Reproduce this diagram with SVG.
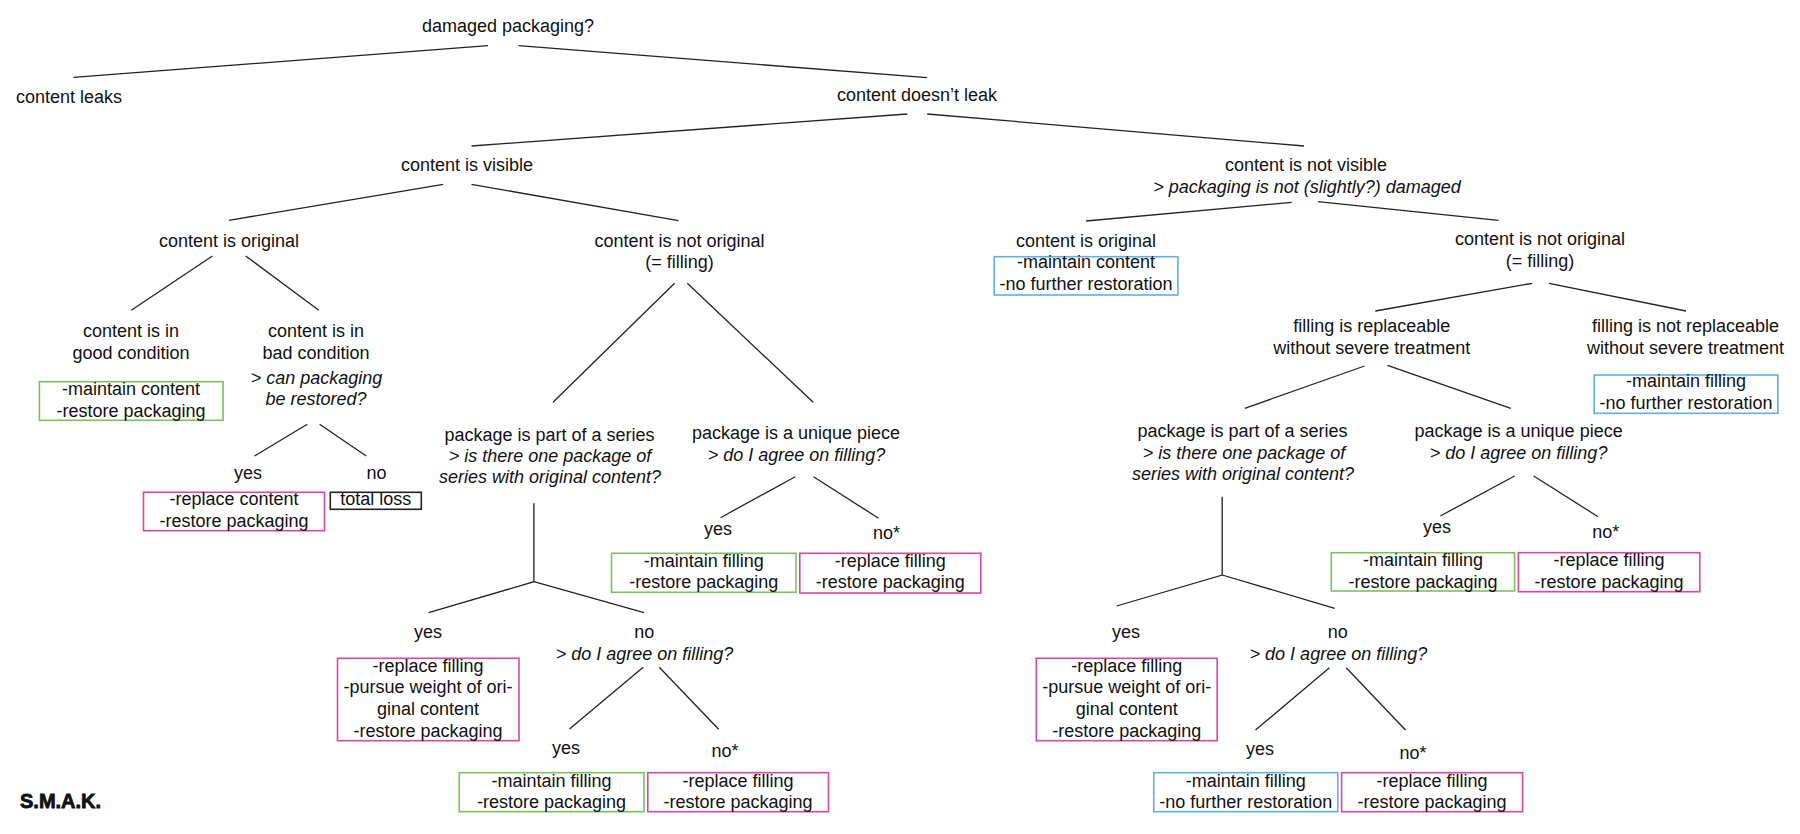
<svg xmlns="http://www.w3.org/2000/svg" width="1800" height="834" viewBox="0 0 1800 834">
<style>
text{font-family:"Liberation Sans",Arial,sans-serif;font-size:18px;fill:#111;text-anchor:middle}
.i{font-style:italic}
.b{fill:none;stroke-width:1.6}
.g{stroke:#7cc25c}
.p{stroke:#e0449e}
.u{stroke:#5fb0ea}
.k{stroke:#222}
#connectors line,#connectors polyline{stroke:#222;stroke-width:1.3;fill:none}
.logo{font-weight:bold;font-size:20px;text-anchor:start;stroke:#111;stroke-width:0.8}
</style>
<rect width="1800" height="834" fill="#fff"/>
<g id="connectors">
<line x1="488" y1="45.7" x2="73.5" y2="77.3"/>
<line x1="518.6" y1="45.7" x2="927.2" y2="77.7"/>
<line x1="907.3" y1="114" x2="471.5" y2="146"/>
<line x1="927.2" y1="114" x2="1304" y2="146"/>
<line x1="443.2" y1="184.3" x2="228.9" y2="220.3"/>
<line x1="471.5" y1="184.3" x2="678.5" y2="220.7"/>
<line x1="1291.8" y1="202.3" x2="1086" y2="221"/>
<line x1="1317.9" y1="201.7" x2="1498.5" y2="220.3"/>
<line x1="212.4" y1="256" x2="131.3" y2="310.3"/>
<line x1="245.7" y1="256" x2="318.8" y2="310.3"/>
<line x1="307.3" y1="424.3" x2="254.5" y2="456"/>
<line x1="319.6" y1="424.3" x2="366.2" y2="456"/>
<line x1="674.6" y1="283.3" x2="553" y2="402.3"/>
<line x1="687.3" y1="283.3" x2="813.2" y2="402.3"/>
<polyline points="533.9,503.3 533.9,581.7 428.6,612.7"/>
<line x1="533.9" y1="581.7" x2="644" y2="612.7"/>
<line x1="795.2" y1="476.7" x2="720.5" y2="517.7"/>
<line x1="813.5" y1="476.7" x2="878.6" y2="518.3"/>
<line x1="643.2" y1="667.3" x2="569.5" y2="729"/>
<line x1="659.3" y1="667.3" x2="718.6" y2="729.3"/>
<line x1="1532.2" y1="283.3" x2="1375.3" y2="311"/>
<line x1="1549" y1="283.3" x2="1686" y2="311"/>
<line x1="1364.6" y1="366" x2="1244.8" y2="408.3"/>
<line x1="1387.5" y1="365.3" x2="1510.8" y2="408.3"/>
<line x1="1514.6" y1="476" x2="1440.3" y2="516"/>
<line x1="1533.7" y1="476" x2="1598" y2="516.7"/>
<polyline points="1222.2,496.7 1222.2,575 1116.6,606"/>
<line x1="1222.2" y1="575" x2="1334.7" y2="608.3"/>
<line x1="1329.4" y1="667.7" x2="1255.5" y2="730"/>
<line x1="1346.2" y1="667.7" x2="1405.5" y2="730"/>
</g>
<g id="root"><text x="508" y="32.3">damaged packaging?</text></g>
<g id="leaks"><text x="69" y="103.3">content leaks</text></g>
<g id="noleak"><text x="917" y="100.7">content doesn’t leak</text></g>
<g id="visible"><text x="467" y="171">content is visible</text></g>
<g id="notvisible"><text x="1306" y="171">content is not visible</text><text class="i" x="1307" y="192.7">&gt; packaging is not (slightly?) damaged</text></g>
<g id="vis-original"><text x="229" y="246.7">content is original</text></g>
<g id="vis-notoriginal"><text x="679.5" y="246.7">content is not original</text><text x="679.5" y="268.3">(= filling)</text></g>
<g id="nv-original"><text x="1086" y="246.7">content is original</text>
<rect class="b u" x="994.2" y="256.7" width="183.7" height="38.3"/>
<text x="1086" y="268.3">-maintain content</text><text x="1086" y="290">-no further restoration</text></g>
<g id="nv-notoriginal"><text x="1540" y="245">content is not original</text><text x="1540" y="266.7">(= filling)</text></g>
<g id="good"><text x="131" y="337.3">content is in</text><text x="131" y="359">good condition</text>
<rect class="b g" x="39.4" y="381.7" width="183.7" height="38.6"/>
<text x="131" y="395">-maintain content</text><text x="131" y="416.7">-restore packaging</text></g>
<g id="bad"><text x="316" y="337.3">content is in</text><text x="316" y="359">bad condition</text><text class="i" x="316.5" y="384">&gt; can packaging</text><text class="i" x="316" y="405">be restored?</text></g>
<g id="bad-yes"><text x="248" y="479">yes</text>
<rect class="b p" x="143.5" y="492.3" width="181" height="38.4"/>
<text x="234" y="505.3">-replace content</text><text x="234" y="526.7">-restore packaging</text></g>
<g id="bad-no"><text x="376.6" y="479">no</text>
<rect class="b k" x="330.3" y="492.3" width="91" height="17"/>
<text x="375.8" y="505.3">total loss</text></g>
<g id="l-series"><text x="549.5" y="440.7">package is part of a series</text><text class="i" x="550" y="461.7">&gt; is there one package of</text><text class="i" x="550" y="483.3">series with original content?</text></g>
<g id="l-unique"><text x="796" y="439.3">package is a unique piece</text><text class="i" x="796.5" y="460.7">&gt; do I agree on filling?</text></g>
<g id="l-unique-yes"><text x="718" y="535">yes</text>
<rect class="b g" x="611.5" y="553.3" width="184.5" height="39"/>
<text x="703.7" y="567">-maintain filling</text><text x="703.7" y="588.3">-restore packaging</text></g>
<g id="l-unique-no"><text x="886.6" y="539.3">no*</text>
<rect class="b p" x="799.8" y="553.3" width="181" height="39.7"/>
<text x="890.3" y="567">-replace filling</text><text x="890.3" y="588.3">-restore packaging</text></g>
<g id="l-series-yes"><text x="428" y="638.3">yes</text>
<rect class="b p" x="337.5" y="658.3" width="181.5" height="82.4"/>
<text x="428" y="671.7">-replace filling</text><text x="428" y="693.3">-pursue weight of ori-</text><text x="428" y="715">ginal content</text><text x="428" y="736.7">-restore packaging</text></g>
<g id="l-series-no"><text x="644.3" y="638.3">no</text><text class="i" x="644.5" y="660">&gt; do I agree on filling?</text></g>
<g id="l-agree-yes"><text x="566" y="754.3">yes</text>
<rect class="b g" x="459.2" y="772.7" width="184.8" height="39"/>
<text x="551.6" y="786.7">-maintain filling</text><text x="551.6" y="808.3">-restore packaging</text></g>
<g id="l-agree-no"><text x="725" y="756.7">no*</text>
<rect class="b p" x="647.8" y="772.7" width="180.7" height="39"/>
<text x="738" y="786.7">-replace filling</text><text x="738" y="808.3">-restore packaging</text></g>
<g id="replaceable"><text x="1371.7" y="332.3">filling is replaceable</text><text x="1371.7" y="354">without severe treatment</text></g>
<g id="notreplaceable"><text x="1685.5" y="332.3">filling is not replaceable</text><text x="1685.5" y="354">without severe treatment</text>
<rect class="b u" x="1594.2" y="375" width="183.7" height="38.3"/>
<text x="1686" y="387.3">-maintain filling</text><text x="1686" y="409.3">-no further restoration</text></g>
<g id="r-series"><text x="1242.5" y="437.3">package is part of a series</text><text class="i" x="1244" y="459.3">&gt; is there one package of</text><text class="i" x="1243" y="480">series with original content?</text></g>
<g id="r-unique"><text x="1518.6" y="437.3">package is a unique piece</text><text class="i" x="1518.6" y="459.3">&gt; do I agree on filling?</text></g>
<g id="r-unique-yes"><text x="1437" y="533.3">yes</text>
<rect class="b g" x="1331.3" y="552.7" width="183.3" height="38.3"/>
<text x="1423" y="566">-maintain filling</text><text x="1423" y="587.7">-restore packaging</text></g>
<g id="r-unique-no"><text x="1605.7" y="538.3">no*</text>
<rect class="b p" x="1518.4" y="552.7" width="181.4" height="39"/>
<text x="1609" y="566">-replace filling</text><text x="1609" y="587.7">-restore packaging</text></g>
<g id="r-series-yes"><text x="1126" y="638.3">yes</text>
<rect class="b p" x="1036.3" y="658.3" width="180.9" height="82.4"/>
<text x="1126.7" y="671.7">-replace filling</text><text x="1126.7" y="693.3">-pursue weight of ori-</text><text x="1126.7" y="715">ginal content</text><text x="1126.7" y="736.7">-restore packaging</text></g>
<g id="r-series-no"><text x="1337.7" y="638.3">no</text><text class="i" x="1338.4" y="660">&gt; do I agree on filling?</text></g>
<g id="r-agree-yes"><text x="1260" y="755">yes</text>
<rect class="b u" x="1153.8" y="772.7" width="184" height="39"/>
<text x="1245.8" y="786.7">-maintain filling</text><text x="1245.8" y="808.3">-no further restoration</text></g>
<g id="r-agree-no"><text x="1413" y="759">no*</text>
<rect class="b p" x="1341.6" y="772.7" width="181" height="39"/>
<text x="1432" y="786.7">-replace filling</text><text x="1432" y="808.3">-restore packaging</text></g>
<g id="logo"><text class="logo" x="20" y="808">S.M.A.K.</text></g>
</svg>
